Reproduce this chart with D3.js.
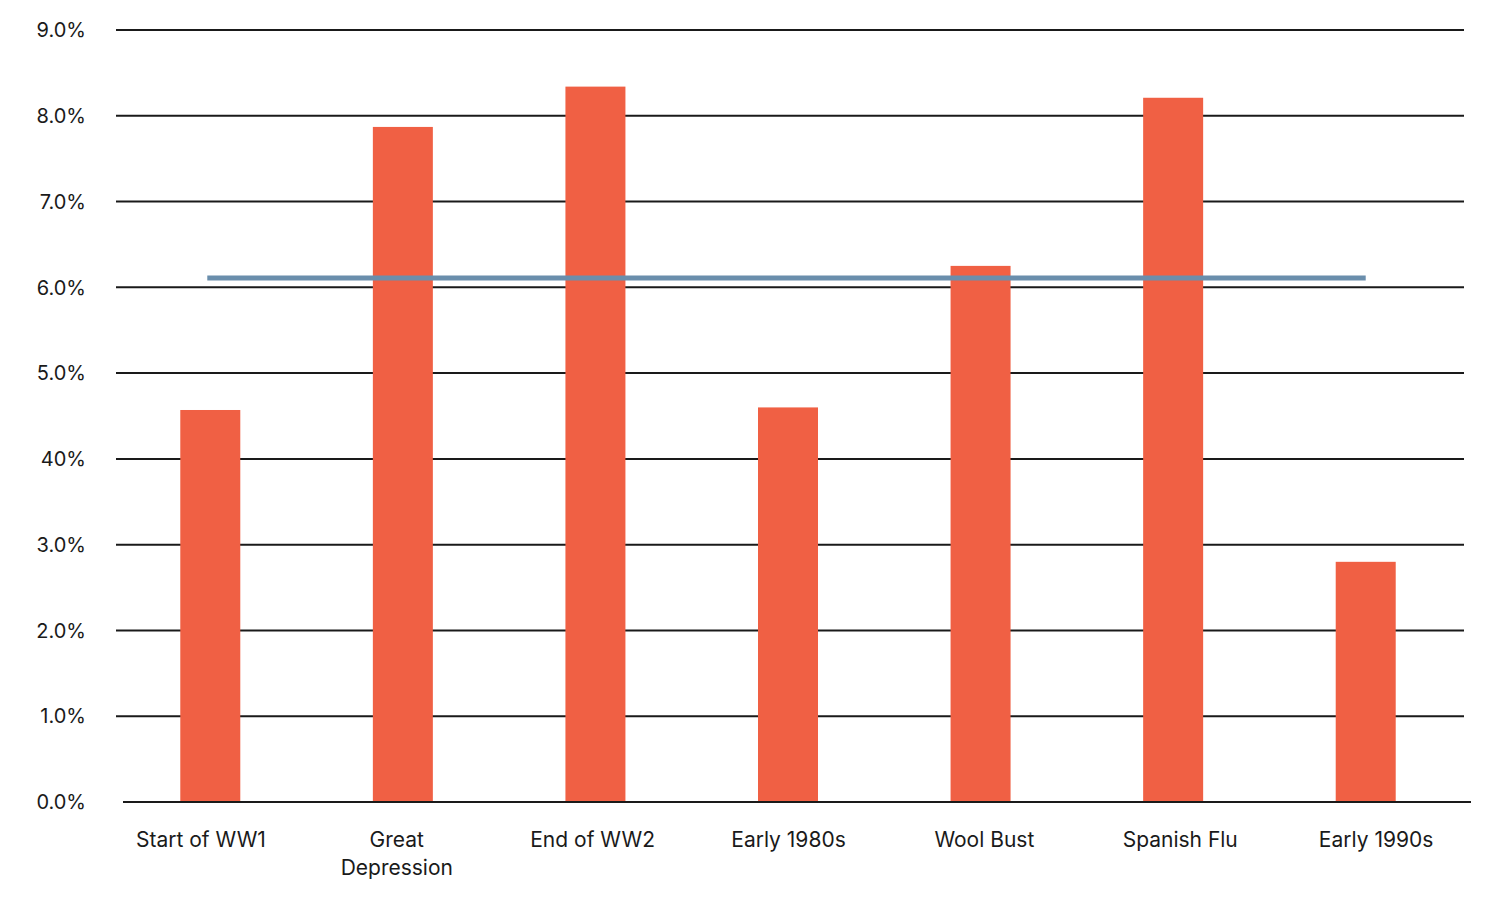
<!DOCTYPE html>
<html>
<head>
<meta charset="utf-8">
<script src="https://cdn.jsdelivr.net/npm/d3@7"></script>
<style>
  body { margin: 0; background: #fff; }
  text { font-family: Inter, "Noto Sans", sans-serif; fill: #1a1a1a; }
</style>
</head>
<body>
<div id="chart"></div>
<script>
// values
var categories = ["Start of WW1", "Great Depression", "End of WW2", "Early 1980s", "Wool Bust", "Spanish Flu", "Early 1990s"];
var labelLines = [["Start of WW1"], ["Great", "Depression"], ["End of WW2"], ["Early 1980s"], ["Wool Bust"], ["Spanish Flu"], ["Early 1990s"]];
var values = [4.57, 7.87, 8.34, 4.60, 6.25, 8.21, 2.80];
var averageValue = 6.11;
var tickValues = [0, 1, 2, 3, 4, 5, 6, 7, 8, 9];
var tickLabels = ["0.0%", "1.0%", "2.0%", "3.0%", "40%", "5.0%", "6.0%", "7.0%", "8.0%", "9.0%"];

function display_chart() {
    var width = 1500;
    var height = 909;
    var grid_left = 116;
    var grid_right = 1464;
    var bar_width = 60;

    var svg = d3.select("#chart")
        .append("svg")
        .attr("width", width)
        .attr("height", height);

    var yScale = d3.scaleLinear()
        .domain([0, 9])
        .range([802, 30]);

    // bars and label positions don't quite share the same spacing in the original
    var xBar = d3.scaleBand()
        .domain(categories)
        .range([114, 1462])
        .paddingInner(1 - bar_width / (1348 / 7))
        .paddingOuter((1 - bar_width / (1348 / 7)) / 2);

    var xLabel = d3.scaleBand()
        .domain(categories)
        .range([103, 1474]);

    // gridlines (not at 0)
    svg.selectAll(".grid")
        .data(tickValues.filter(function(d) { return d > 0; }))
        .enter().append("line")
        .attr("class", "grid")
        .attr("x1", grid_left)
        .attr("x2", grid_right)
        .attr("y1", function(d) { return yScale(d); })
        .attr("y2", function(d) { return yScale(d); })
        .attr("stroke", "#1a1a1a")
        .attr("stroke-width", 2);

    // y labels
    svg.selectAll(".ylab")
        .data(tickValues)
        .enter().append("text")
        .attr("class", "ylab")
        .attr("x", 86)
        .attr("y", function(d) { return yScale(d); })
        .attr("dy", "0.36em")
        .attr("text-anchor", "end")
        .attr("font-size", 20)
        .text(function(d, i) { return tickLabels[i]; });

    // bars
    svg.selectAll(".bar")
        .data(values)
        .enter().append("rect")
        .attr("class", "bar")
        .attr("x", function(d, i) { return xBar(categories[i]); })
        .attr("y", function(d) { return yScale(d); })
        .attr("width", xBar.bandwidth())
        .attr("height", function(d) { return yScale(0) - yScale(d); })
        .attr("fill", "#f06044");

    // baseline
    svg.append("line")
        .attr("x1", 123)
        .attr("x2", 1471)
        .attr("y1", yScale(0))
        .attr("y2", yScale(0))
        .attr("stroke", "#1a1a1a")
        .attr("stroke-width", 2);

    // average line
    var first = categories[0], last = categories[categories.length - 1];
    svg.append("line")
        .attr("x1", xBar(first) + xBar.bandwidth() / 2 - 3)
        .attr("x2", xBar(last) + xBar.bandwidth() / 2)
        .attr("y1", yScale(averageValue))
        .attr("y2", yScale(averageValue))
        .attr("stroke", "#6a8eac")
        .attr("stroke-width", 5);

    // x labels
    var xl = svg.selectAll(".xlab")
        .data(categories)
        .enter().append("text")
        .attr("class", "xlab")
        .attr("text-anchor", "middle")
        .attr("font-size", 21)
        .attr("transform", function(d) { return "translate(" + (xLabel(d) + xLabel.bandwidth() / 2) + ",847)"; });

    xl.selectAll("tspan")
        .data(function(d, i) { return labelLines[i]; })
        .enter().append("tspan")
        .attr("x", 0)
        .attr("y", function(d, j) { return j * 28; })
        .text(function(d) { return d; });
}

display_chart();
</script>
</body>
</html>
